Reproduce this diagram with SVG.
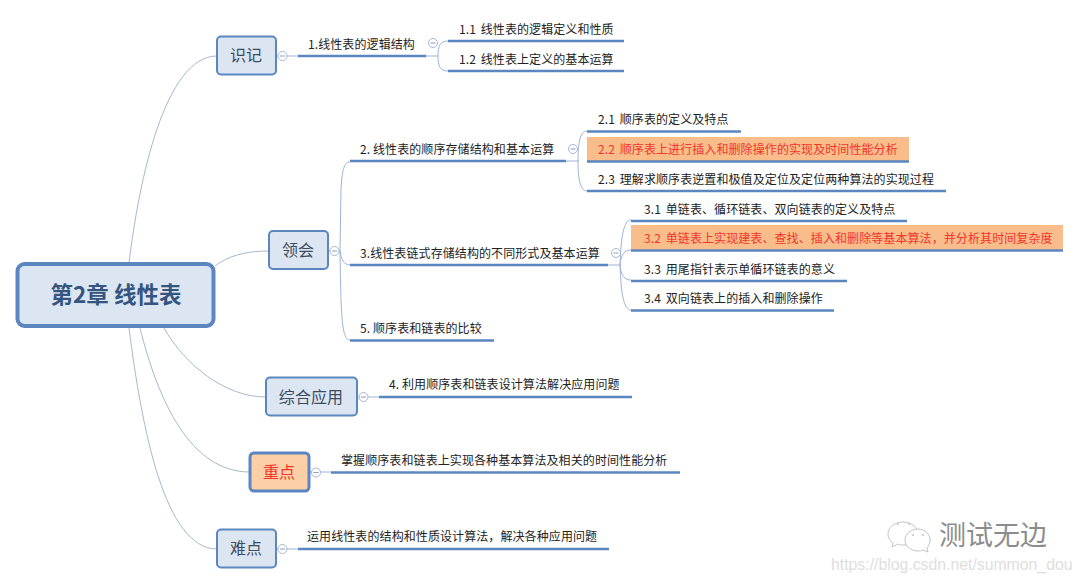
<svg xmlns="http://www.w3.org/2000/svg" width="1080" height="583" viewBox="0 0 1080 583">
<style>
text{font-family:"Noto Sans CJK SC","Liberation Sans",sans-serif;fill:#222;font-size:12px;letter-spacing:.09px}
.sub{word-spacing:2px}
.box{fill:#dce6f3;stroke:#5b86bf;stroke-width:2}
.mid{font-size:16px;fill:#3c4c60;text-anchor:middle}
.ul{stroke:#5b86bf;stroke-width:2.5;fill:none}
.c1{stroke:#a9b8c8;stroke-width:1;fill:none}
.c2{stroke:#9db3d6;stroke-width:1;fill:none}
.tog{fill:#fff;stroke:#a7b6d4;stroke-width:1}
.dash{stroke:#8a9bbd;stroke-width:1}
.hl{fill:#f9bd8b}
.red{fill:#f2352a}
.wm{fill:#fff;stroke:#c4c4c4;stroke-width:1}
</style>
<rect width="1080" height="583" fill="#fff"/>
<g id="connectors">
<path class="c1" d="M129 263C139 180 165 56 217 56"/>
<path class="c1" d="M215 266C228 256 245 251 269 251"/>
<path class="c1" d="M164 328C185 365 225 397 266 397"/>
<path class="c1" d="M140 328C158 400 190 472 250 472"/>
<path class="c1" d="M129 328C142 430 165 549 217 549"/>
<path class="c2" d="M276 56H298M426 56H438"/>
<path class="c2" d="M448 41C440 41 438 46 438 56C438 66 440 71 448 71"/>
<path class="c2" d="M328 251H341"/>
<path class="c2" d="M350 162C344 162 342 170 341 190L340 251C341 320 342 340 350 340"/>
<path class="c2" d="M340 251C341 259 344 265 350 265"/>
<path class="c2" d="M566 161H579"/>
<path class="c2" d="M587 131C581 131 578 140 578 161C578 182 581 191 587 191"/>
<path class="c2" d="M608 265H620"/>
<path class="c2" d="M631 220C624 220 621 235 620 265C621 295 624 310 631 310"/>
<path class="c2" d="M620 265C621 255 624 250 631 250M620 265C621 275 624 280 631 280"/>
<path class="c2" d="M357 397H379"/>
<path class="c2" d="M309 472H331"/>
<path class="c2" d="M276 549H298"/>
</g>
<g id="root"><rect x="17.500" y="264" width="196" height="62" rx="7" fill="#dce6f3" stroke="#5b86bf" stroke-width="4"/><text x="116" y="303" text-anchor="middle" style="font-size:22.500px;font-weight:700;fill:#34557f;letter-spacing:0">第2章 线性表</text></g>
<g id="n-shiji"><rect class="box" x="217" y="36.500" width="59" height="38" rx="4"/><text class="mid" x="246" y="61">识记</text><circle class="tog" cx="282.500" cy="56" r="4.500"/><path class="dash" d="M280 56h5"/></g>
<g id="n-linghui"><rect class="box" x="269" y="231" width="59" height="38" rx="4"/><text class="mid" x="298" y="256">领会</text><circle class="tog" cx="334.500" cy="251" r="4.500"/><path class="dash" d="M332 251h5"/></g>
<g id="n-zonghe"><rect class="box" x="266" y="377.500" width="91" height="38" rx="4"/><text class="mid" x="311" y="403">综合应用</text><circle class="tog" cx="363.500" cy="397" r="4.500"/><path class="dash" d="M361 397h5"/></g>
<g id="n-zhongdian"><rect x="250" y="453" width="59" height="38" rx="4" fill="#fdcfa6" stroke="#5b86bf" stroke-width="3"/><text class="mid" x="279" y="478" style="fill:#f2352a">重点</text><circle class="tog" cx="316" cy="472.500" r="4.500"/><path class="dash" d="M313.500 472.500h5"/></g>
<g id="n-nandian"><rect class="box" x="217" y="529.500" width="59" height="38" rx="4"/><text class="mid" x="246" y="554">难点</text><circle class="tog" cx="282.500" cy="549" r="4.500"/><path class="dash" d="M280 549h5"/></g>
<g id="t1"><path class="ul" d="M298 56H426"/><text x="308" y="49">1.线性表的逻辑结构</text><circle class="tog" cx="433" cy="43" r="4.500"/><path class="dash" d="M430.500 43h5"/></g>
<g id="t11"><path class="ul" d="M448 41H624"/><text class="sub" x="459" y="34">1.1 线性表的逻辑定义和性质</text></g>
<g id="t12"><path class="ul" d="M448 71H624"/><text class="sub" x="459" y="64">1.2 线性表上定义的基本运算</text></g>
<g id="t2"><path class="ul" d="M350 161H566"/><text x="360" y="154">2. 线性表的顺序存储结构和基本运算</text><circle class="tog" cx="573" cy="149" r="4.500"/><path class="dash" d="M570.500 149h5"/></g>
<g id="t21"><path class="ul" d="M587 131.500H741"/><text class="sub" x="598" y="124">2.1 顺序表的定义及特点</text></g>
<g id="t22"><rect class="hl" x="587" y="137" width="322" height="24"/><path class="ul" d="M587 161.500H909"/><text class="red sub" x="598" y="154">2.2 顺序表上进行插入和删除操作的实现及时间性能分析</text></g>
<g id="t23"><path class="ul" d="M587 191H946"/><text class="sub" x="598" y="184">2.3 理解求顺序表逆置和极值及定位及定位两种算法的实现过程</text></g>
<g id="t3"><path class="ul" d="M350 265H608"/><text x="360" y="258">3.线性表链式存储结构的不同形式及基本运算</text><circle class="tog" cx="616" cy="253" r="4.500"/><path class="dash" d="M613.500 253h5"/></g>
<g id="t31"><path class="ul" d="M631 221H907"/><text class="sub" x="644" y="214">3.1 单链表、循环链表、双向链表的定义及特点</text></g>
<g id="t32"><rect class="hl" x="631" y="225" width="432" height="25"/><path class="ul" d="M631 250.500H1063"/><text class="red sub" x="644" y="243">3.2 单链表上实现建表、查找、插入和删除等基本算法，并分析其时间复杂度</text></g>
<g id="t33"><path class="ul" d="M631 281H847"/><text class="sub" x="644" y="274">3.3 用尾指针表示单循环链表的意义</text></g>
<g id="t34"><path class="ul" d="M631 310.500H834"/><text class="sub" x="644" y="303">3.4 双向链表上的插入和删除操作</text></g>
<g id="t5"><path class="ul" d="M350 340.500H494"/><text x="360" y="333">5. 顺序表和链表的比较</text></g>
<g id="t4"><path class="ul" d="M379 397H632"/><text x="389" y="389">4. 利用顺序表和链表设计算法解决应用问题</text></g>
<g id="tz"><path class="ul" d="M331 472.500H680"/><text x="341" y="465">掌握顺序表和链表上实现各种基本算法及相关的时间性能分析</text></g>
<g id="tn"><path class="ul" d="M298 549H609"/><text x="307" y="541">运用线性表的结构和性质设计算法，解决各种应用问题</text></g>
<g id="watermark">
<path class="wm" d="M903 522C895 522 888 527 888 534C888 538 890 541 893 543L892 547L898 544C900 545 902 545 904 545C910 545 918 540 918 534C918 527 911 522 903 522Z"/>
<path class="wm" d="M918 529C911 529 905 534 905 540C905 546 911 551 918 551C920 551 921 551 923 550L928 552L927 548C929 546 930 543 930 540C930 534 925 529 918 529Z"/>
<circle cx="898" cy="524" r="1" fill="#c4c4c4"/><circle cx="909" cy="524" r="1" fill="#c4c4c4"/><circle cx="913" cy="535" r="1" fill="#c4c4c4"/><circle cx="923" cy="535" r="1" fill="#c4c4c4"/>
<text x="939" y="545" style="font-size:27px;fill:#8c8c8c;letter-spacing:0">测试无边</text>
<text x="831" y="570" style="font-family:'Liberation Sans',sans-serif;font-size:15.800px;fill:#dedede;letter-spacing:0">https://blog.csdn.net/summon_dou</text>
</g>
</svg>
